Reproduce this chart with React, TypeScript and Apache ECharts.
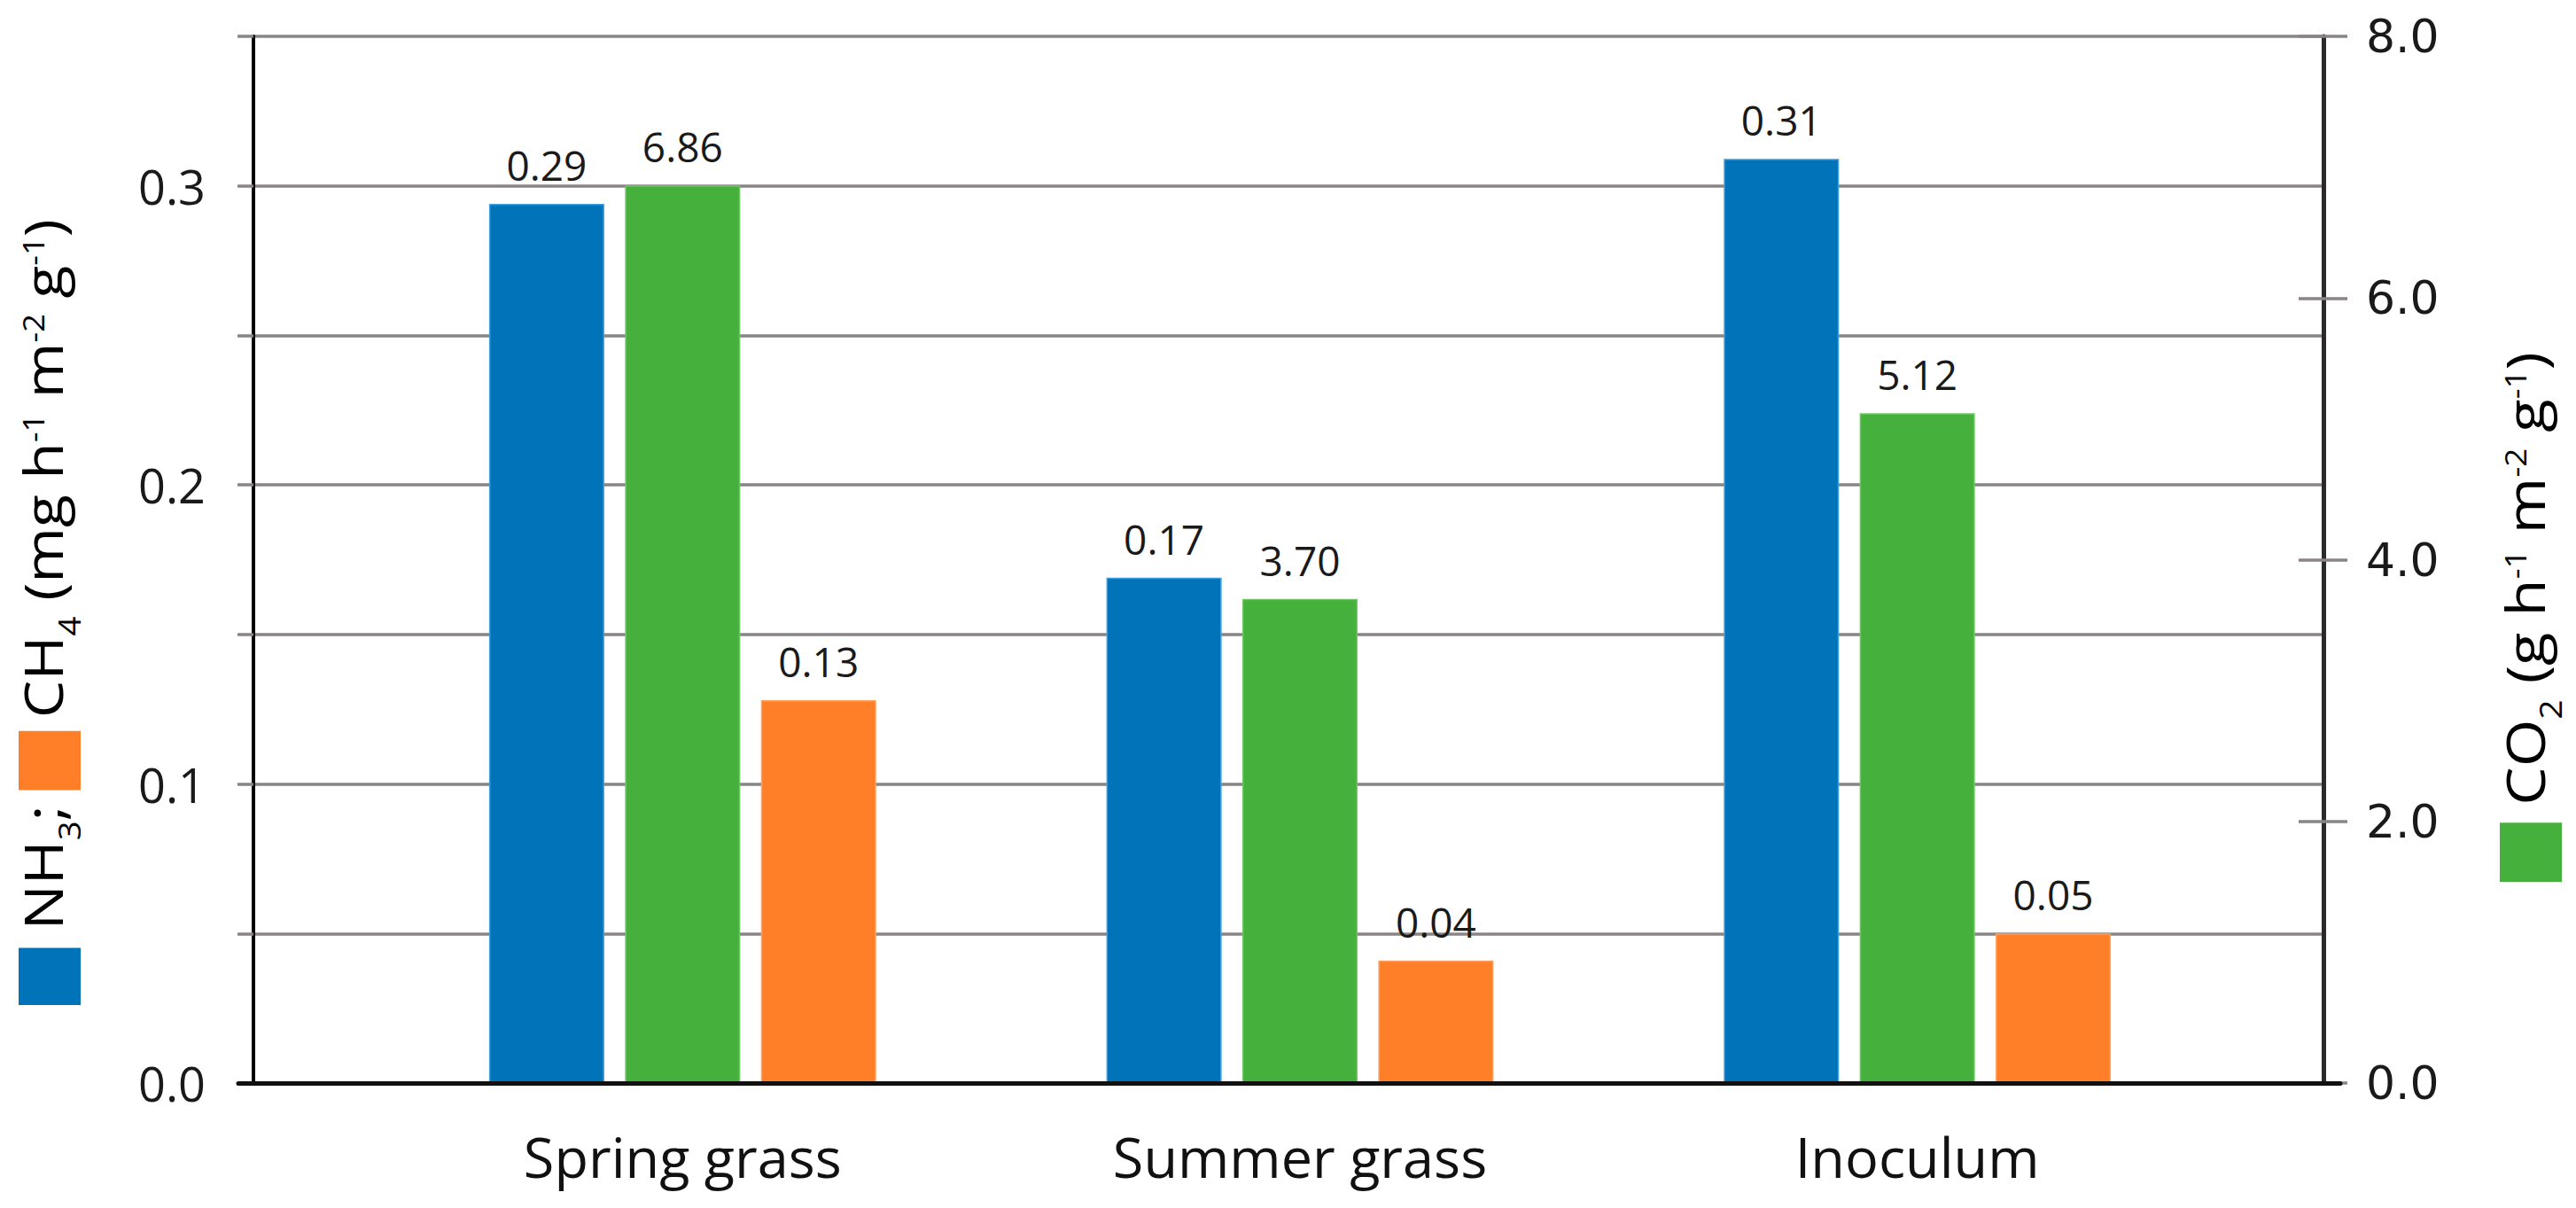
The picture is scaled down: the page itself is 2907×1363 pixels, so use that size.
import React, { useEffect, useRef } from "react";
import * as echarts from "echarts";

const categories = ["Spring grass", "Summer grass", "Inoculum"];
const nh3Values = [0.294, 0.169, 0.309];
const co2Values = [6.86, 3.7, 5.12];
const ch4Values = [0.128, 0.041, 0.05];

const leftMin = 0;
const leftMax = 0.35;
const leftInterval = 0.05;
const rightMin = 0;
const rightMax = 8;
const rightInterval = 2;

const BLUE = "#0173b8";
const GREEN = "#46b03d";
const ORANGE = "#fe7f27";
const GRID_GREY = "#8a8585";
const FONT = "'Open Sans', sans-serif";

export default function App() {
  const ref = useRef<HTMLDivElement>(null);

  useEffect(() => {
    if (!ref.current) return;
    const chart = echarts.init(ref.current, null, { renderer: "svg" });

    const valueLabel = {
      show: true,
      position: "top",
      distance: 21,
      fontFamily: FONT,
      fontSize: 46,
      color: "#1a1a1a",
      formatter: (p: any) => Number(p.value).toFixed(2),
    };

    const mainTok = { fontFamily: FONT, fontSize: 60, color: "#111", height: 55, verticalAlign: "top" };
    const subTok = { fontFamily: FONT, fontSize: 34, color: "#111", height: 26, verticalAlign: "bottom" };
    const supTok = { fontFamily: FONT, fontSize: 32, color: "#111", height: 34, verticalAlign: "top" };
    const sq = (color: string, w: number) => ({ width: w, height: 70, lineHeight: 70, backgroundColor: color, verticalAlign: "middle" });
    const gap = (w: number) => ({ width: w, height: 70, lineHeight: 70 });

    const leftTitle =
      "{sqB| }{g1| }{m|NH}{sub|3}{m|;}{g2| }{sqO| }{g3| }{m|CH}{sub|4}{m| (mg h}{sup|-1}{m| m}{sup|-2}{m| g}{sup|-1}{m|)}";
    const rightTitle =
      "{sqG| }{g1| }{m|CO}{sub|2}{m| (g h}{sup|-1}{m| m}{sup|-2}{m| g}{sup|-1}{m|)}";

    const option: any = {
      animation: false,
      backgroundColor: "#ffffff",
      grid: [
        { left: 286, right: 285, top: 41, bottom: 141 },
        { left: 422, right: 395, top: 41, bottom: 141 },
        { left: 269, right: 266, top: 41, bottom: 141 },
      ],
      xAxis: [
        {
          gridIndex: 0,
          type: "value",
          position: "top",
          min: 0,
          max: 1,
          axisLine: { show: true, lineStyle: { color: "#000", width: 3 } },
          axisTick: { show: false },
          axisLabel: { show: false },
          splitLine: { show: false },
        },
        {
          gridIndex: 1,
          type: "category",
          data: categories,
          axisLine: { show: false },
          axisTick: { show: false },
          axisLabel: {
            fontFamily: FONT,
            fontSize: 63,
            color: "#111",
            margin: 51,
          },
        },
        {
          gridIndex: 2,
          type: "value",
          min: 0,
          max: 1,
          z: 10,
          axisLine: { show: true, lineStyle: { color: "#111", width: 5 } },
          axisTick: { show: false },
          axisLabel: { show: false },
          splitLine: { show: false },
        },
      ],
      yAxis: [
        {
          gridIndex: 0,
          type: "value",
          position: "left",
          min: leftMin,
          max: leftMax,
          interval: leftInterval,
          axisLine: { show: true, lineStyle: { color: "#000", width: 4 } },
          axisTick: { show: true, length: 18, lineStyle: { color: GRID_GREY, width: 3.5 } },
          splitLine: { show: true, lineStyle: { color: GRID_GREY, width: 3.5 } },
          axisLabel: {
            fontFamily: FONT,
            fontSize: 54,
            color: "#1a1a1a",
            margin: 54,
            formatter: (v: number) => (Math.round(v * 100) % 10 === 0 ? v.toFixed(1) : ""),
          },
        },
        {
          gridIndex: 0,
          type: "value",
          position: "right",
          min: rightMin,
          max: rightMax,
          interval: rightInterval,
          axisLine: { show: true, lineStyle: { color: "#2a2a2a", width: 5 } },
          axisTick: { show: true, length: 27, lineStyle: { color: GRID_GREY, width: 3.5 } },
          splitLine: { show: false },
          axisLabel: {
            fontFamily: "'DejaVu Sans', sans-serif",
            fontSize: 52,
            color: "#1a1a1a",
            margin: 48,
            formatter: (v: number) => v.toFixed(1),
          },
        },
        {
          gridIndex: 0,
          type: "value",
          position: "right",
          min: rightMin,
          max: rightMax,
          interval: rightInterval,
          axisLine: { show: false },
          axisTick: { show: true, inside: true, length: 28, lineStyle: { color: GRID_GREY, width: 3.5 } },
          splitLine: { show: false },
          axisLabel: { show: false },
        },
        { gridIndex: 1, type: "value", min: leftMin, max: leftMax, show: false },
        { gridIndex: 1, type: "value", min: rightMin, max: rightMax, show: false },
        { gridIndex: 2, type: "value", min: 0, max: 1, show: false },
      ],
      series: [
        {
          name: "NH3",
          type: "bar",
          xAxisIndex: 1,
          yAxisIndex: 3,
          data: nh3Values,
          barWidth: 130,
          barGap: "18%",
          itemStyle: { color: BLUE, borderColor: "#3f9ee0", borderWidth: 1.5 },
          label: valueLabel,
        },
        {
          name: "CO2",
          type: "bar",
          xAxisIndex: 1,
          yAxisIndex: 4,
          data: co2Values,
          barWidth: 130,
          barGap: "18%",
          itemStyle: { color: GREEN, borderColor: "#6cc763", borderWidth: 1.5 },
          label: valueLabel,
        },
        {
          name: "CH4",
          type: "bar",
          xAxisIndex: 1,
          yAxisIndex: 3,
          data: ch4Values,
          barWidth: 130,
          barGap: "18%",
          itemStyle: { color: ORANGE, borderColor: "#ffa060", borderWidth: 1.5 },
          label: valueLabel,
        },
      ],
      graphic: [
        {
          type: "text",
          x: 56,
          y: 1134,
          rotation: Math.PI / 2,
          scaleX: 1.13,
          scaleY: 1,
          style: {
            x: 0,
            y: 0,
            text: leftTitle,
            align: "left",
            verticalAlign: "middle",
            rich: {
              m: mainTok,
              sub: subTok,
              sup: supTok,
              sqB: sq(BLUE, 57),
              sqO: sq(ORANGE, 59),
              g1: gap(18),
              g2: gap(15),
              g3: gap(13),
            },
          },
        },
        {
          type: "text",
          x: 2856,
          y: 995,
          rotation: Math.PI / 2,
          scaleX: 1.15,
          scaleY: 1,
          style: {
            x: 0,
            y: 0,
            text: rightTitle,
            align: "left",
            verticalAlign: "middle",
            rich: {
              m: mainTok,
              sub: subTok,
              sup: supTok,
              sqG: sq(GREEN, 58),
              g1: gap(17),
            },
          },
        },
      ],
    };

    chart.setOption(option);
    return () => chart.dispose();
  }, []);

  return (
    <div
      ref={ref}
      style={{ position: "absolute", left: 0, top: 0, width: 2907, height: 1363, background: "#fff" }}
    />
  );
}
